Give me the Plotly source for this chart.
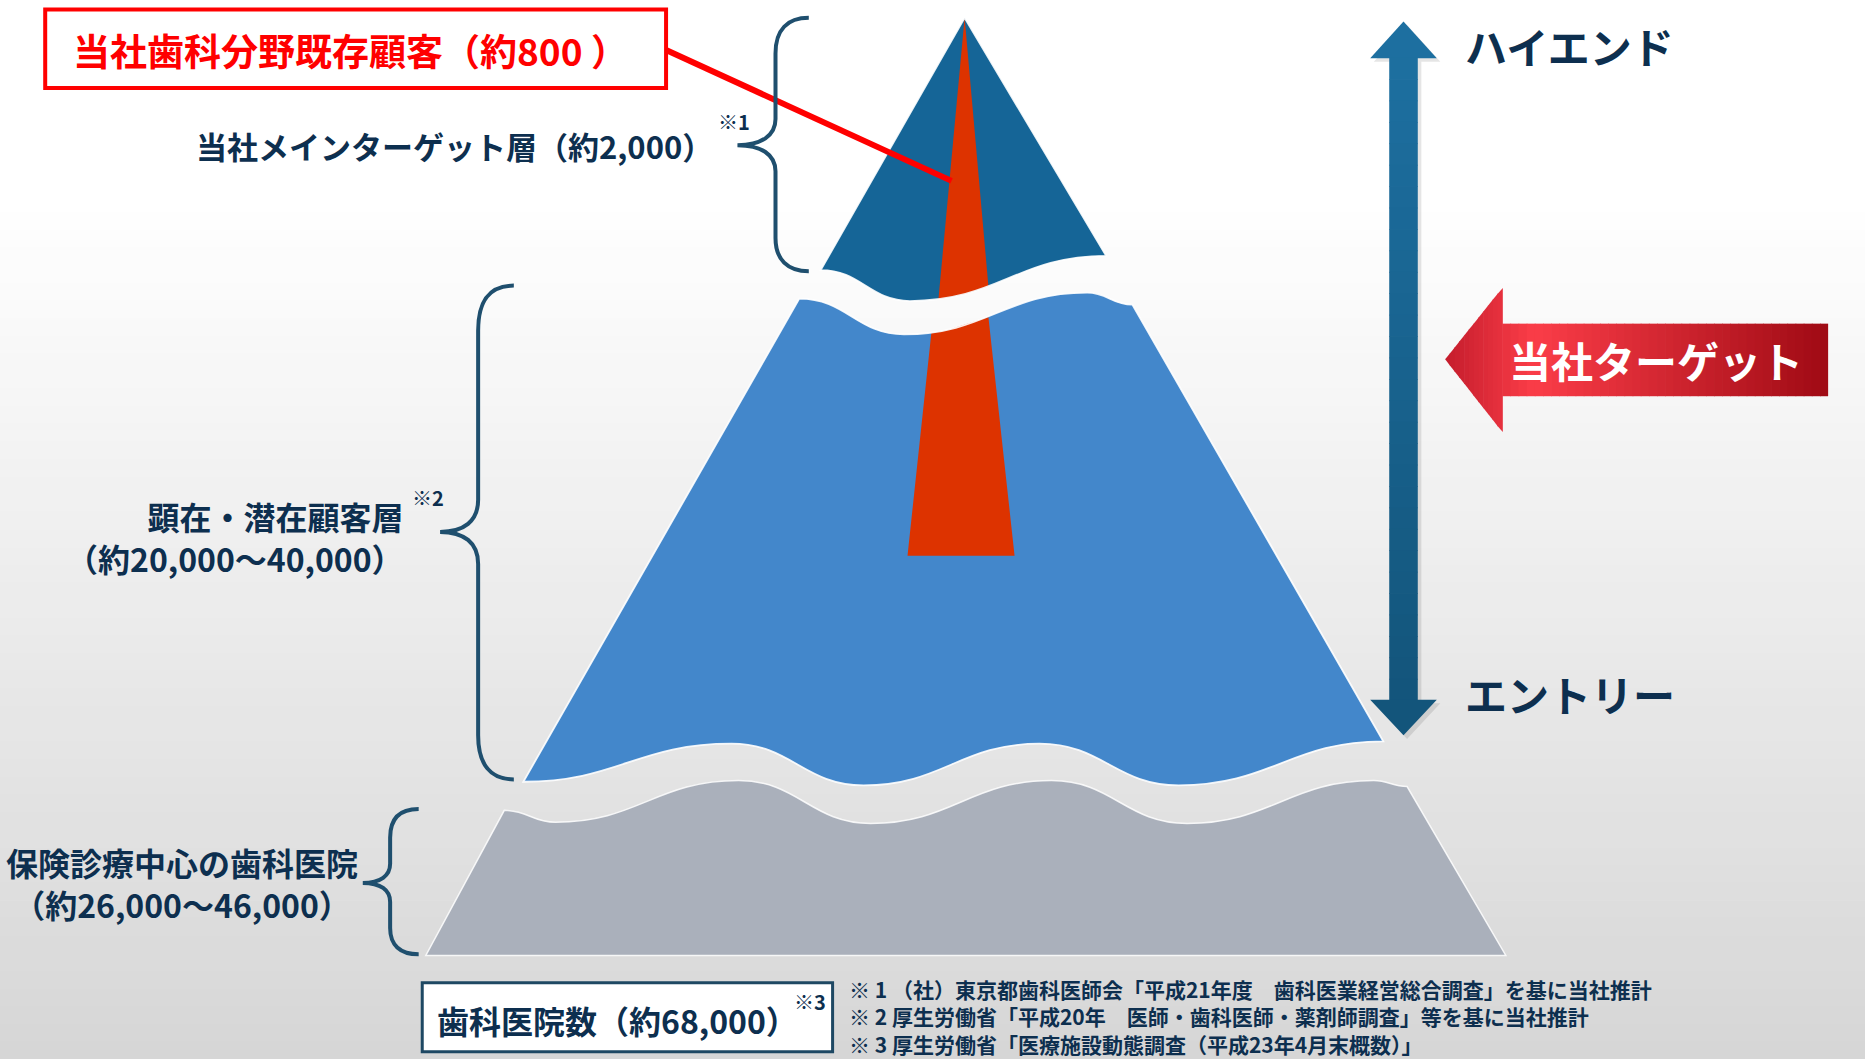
import plotly.graph_objects as go

# ---------------- content (text / values) ----------------
existing_label = "当社歯科分野既存顧客（約800 ）"
layer_titles = ["当社メインターゲット層（約2,000）", "顕在・潜在顧客層", "保険診療中心の歯科医院"]
layer_ranges = ["", "（約20,000〜40,000）", "（約26,000〜46,000）"]
note_marks = ["※1", "※2", "※3"]
total_label = "歯科医院数（約68,000）"
scale_labels = ["ハイエンド", "エントリー"]
target_label = "当社ターゲット"
footnotes = [
    "※ 1 （社）東京都歯科医師会「平成21年度　歯科医業経営総合調査」を基に当社推計",
    "※ 2 厚生労働省「平成20年　医師・歯科医師・薬剤師調査」等を基に当社推計",
    "※ 3 厚生労働省「医療施設動態調査（平成23年4月末概数）」",
]

# ---------------- style ----------------
W, H = 1865, 1059
XR, YR = 1568, 890          # drawing coordinate space
FONT = "Noto Sans CJK JP"
NAVY = "#0d2f4f"
BRACE = "#1f4f6e"
DARK_BLUE = "#156597"
MID_BLUE = "#4387cb"
GRAY = "#aab0bb"
RED_STRIPE = "#dd3300"


def hexlerp(c1, c2, t):
    a = [int(c1[i:i + 2], 16) for i in (1, 3, 5)]
    b = [int(c2[i:i + 2], 16) for i in (1, 3, 5)]
    return "#" + "".join(f"{int(round(a[k] + (b[k] - a[k]) * t)):02x}" for k in range(3))


def wave(points, start=True):
    x0, y0 = points[0]
    s = (f"M {x0},{y0}" if start else f" L {x0},{y0}")
    for (xa, ya), (xb, yb) in zip(points, points[1:]):
        d = (xb - xa) * 0.45
        s += f" C {xa + d},{ya} {xb - d},{yb} {xb},{yb}"
    return s


shapes = []

# background gradient
nb = 60
for i in range(nb):
    y0 = i * YR / nb
    y1 = (i + 1) * YR / nb + 0.6
    ym = (y0 + y1) / 2
    t = max(0.0, (ym - 170) / (YR - 170))
    shapes.append(dict(type="rect", x0=0, x1=XR, y0=y0, y1=y1,
                       fillcolor=hexlerp("#ffffff", "#d6d6d6", t), line=dict(width=0)))

# ---- gray base layer ----
gray_top = [(424, 681), (467, 691), (621, 656), (732, 692), (884, 656), (998, 692), (1155, 656), (1183, 661)]
gray_path = wave(gray_top) + " L 1266,803 L 358,803 Z"
shapes.append(dict(type="path", path=gray_path, fillcolor=GRAY,
                   line=dict(color="rgba(255,255,255,0.85)", width=1.5)))

# ---- middle blue layer ----
mid_top = [(672, 251), (760, 281), (914, 246), (952, 256)]
mid_bottom = [(1163, 623), (991, 660), (874, 625), (726, 660), (615, 625), (440, 657)]
mid_path = wave(mid_top) + " L 1163,623" + wave(mid_bottom, start=False) + " Z"
shapes.append(dict(type="path", path=mid_path, fillcolor=MID_BLUE, line=dict(width=0)))
shapes.append(dict(type="path", path="M 783,280 L 796,277.5 L 831,266.5 L 853,467 L 763,467 Z",
                   fillcolor=RED_STRIPE, line=dict(width=0)))
shapes.append(dict(type="path", path=mid_path, fillcolor="rgba(0,0,0,0)",
                   line=dict(color="rgba(255,255,255,0.9)", width=1.8)))

# ---- top dark triangle ----
top_bottom = [(930, 215), (765, 253), (690, 227)]
top_path = "M 811,15 L 930,215" + wave(top_bottom, start=False) + " Z"
shapes.append(dict(type="path", path=top_path, fillcolor=DARK_BLUE, line=dict(width=0)))
shapes.append(dict(type="path", path="M 811,15 L 831,240.5 L 811.6,247 L 789,251.5 Z",
                   fillcolor=RED_STRIPE, line=dict(width=0)))
shapes.append(dict(type="path", path=top_path, fillcolor="rgba(0,0,0,0)",
                   line=dict(color="rgba(255,255,255,0.9)", width=1.8)))

# ---- red callout box and leader line ----
shapes.append(dict(type="line", x0=560, y0=42, x1=800, y1=152, line=dict(color="#ff0000", width=6)))
shapes.append(dict(type="rect", x0=38, y0=8, x1=560, y1=74, fillcolor="white",
                   line=dict(color="#ff0000", width=4)))

# ---- braces ----
braces = [
    "M 680,15 C 662,15 652,25 652,45 L 652,100 C 652,114 640,122 620,122 "
    "C 640,122 652,130 652,144 L 652,200 C 652,218 662,228 680,228",
    "M 432,240 C 412,240 402,252 402,278 L 402,420 C 402,438 390,447 370,447 "
    "C 390,447 402,456 402,474 L 402,618 C 402,642 412,655 432,655",
    "M 352,680 C 336,680 328,688 328,704 L 328,726 C 328,736 320,742 305,742 "
    "C 320,742 328,748 328,758 L 328,780 C 328,794 336,802 352,802",
]
for b in braces:
    shapes.append(dict(type="path", path=b, line=dict(color=BRACE, width=4)))

# ---- vertical double arrow ----
ax_c, shaft_hw, head_hw = 1180, 12, 28
top_tip, top_base, bot_base, bot_tip = 18, 49, 588, 618
c_top, c_bot = "#1d6fa0", "#13557b"
shapes.append(dict(type="path",
                   path=f"M {ax_c + 3},{top_tip + 3} L {ax_c + head_hw + 3},{top_base + 3} L {ax_c + shaft_hw + 3},{top_base + 3} "
                        f"L {ax_c + shaft_hw + 3},{bot_base + 3} L {ax_c + head_hw + 3},{bot_base + 3} L {ax_c + 3},{bot_tip + 3} "
                        f"L {ax_c - head_hw + 3},{bot_base + 3} L {ax_c - shaft_hw + 3},{bot_base + 3} L {ax_c - shaft_hw + 3},{top_base + 3} "
                        f"L {ax_c - head_hw + 3},{top_base + 3} Z",
                   fillcolor="rgba(0,0,0,0.10)", line=dict(width=0)))
shapes.append(dict(type="path", path=f"M {ax_c},{top_tip} L {ax_c + head_hw},{top_base} L {ax_c - head_hw},{top_base} Z",
                   fillcolor=c_top, line=dict(width=0)))
ns = 30
for i in range(ns):
    y0 = top_base - 0.5 + i * (bot_base - top_base + 1) / ns
    y1 = top_base - 0.5 + (i + 1) * (bot_base - top_base + 1) / ns + 0.6
    shapes.append(dict(type="rect", x0=ax_c - shaft_hw, x1=ax_c + shaft_hw, y0=y0, y1=y1,
                       fillcolor=hexlerp(c_top, c_bot, (i + 0.5) / ns), line=dict(width=0)))
shapes.append(dict(type="path", path=f"M {ax_c - head_hw},{bot_base} L {ax_c + head_hw},{bot_base} L {ax_c},{bot_tip} Z",
                   fillcolor=c_bot, line=dict(width=0)))

# ---- red target arrow (horizontal gradient) ----
tip_x, tip_y, head_x, head_top, head_bot = 1215, 302, 1263, 242, 363
shaft_top, shaft_bot, right_x = 272, 333, 1537


def red_col(x):
    if x < 1290:
        return hexlerp("#c41c2c", "#fb3d48", (x - tip_x) / (1290 - tip_x))
    return hexlerp("#fb3d48", "#9f0a14", (x - 1290) / (right_x - 1290))


nh = 12
for i in range(nh):
    xa = tip_x + i * (head_x - tip_x) / nh
    xb = tip_x + (i + 1) * (head_x - tip_x) / nh + 0.5
    xb = min(xb, head_x + 0.5)
    ta = tip_y - (xa - tip_x) / (head_x - tip_x) * (tip_y - head_top)
    tb = tip_y - (min(xb, head_x) - tip_x) / (head_x - tip_x) * (tip_y - head_top)
    ba = tip_y + (xa - tip_x) / (head_x - tip_x) * (head_bot - tip_y)
    bb = tip_y + (min(xb, head_x) - tip_x) / (head_x - tip_x) * (head_bot - tip_y)
    shapes.append(dict(type="path", path=f"M {xa},{ta} L {xb},{tb} L {xb},{bb} L {xa},{ba} Z",
                       fillcolor=red_col((xa + xb) / 2), line=dict(width=0)))
nr = 40
for i in range(nr):
    xa = head_x + i * (right_x - head_x) / nr
    xb = head_x + (i + 1) * (right_x - head_x) / nr + 0.6
    xb = min(xb, right_x)
    shapes.append(dict(type="rect", x0=xa, x1=xb, y0=shaft_top, y1=shaft_bot,
                       fillcolor=red_col((xa + xb) / 2), line=dict(width=0)))

# ---- total box ----
shapes.append(dict(type="rect", x0=355, y0=826, x1=700, y1=884, fillcolor="white",
                   line=dict(color="#1e4863", width=3)))

# ---------------- annotations ----------------
ann = []


def txt(x, y, s, size, color=NAVY, xanchor="center", bold=True, align="center"):
    ann.append(dict(x=x, y=y, xref="x", yref="y", text=(f"<b>{s}</b>" if bold else s), showarrow=False,
                    xanchor=xanchor, yanchor="middle", align=align,
                    font=dict(family=FONT, size=size, color=color)))


txt(295, 42, existing_label, 37, color="#ff0000")
txt(601, 122, layer_titles[0], 31, xanchor="right")
txt(602, 102, note_marks[0], 20, xanchor="left")
txt(341, 451, layer_titles[1] + "<br>" + layer_ranges[1], 32, xanchor="right", align="right")
txt(345, 418, note_marks[1], 20, xanchor="left")
txt(153, 742, layer_titles[2] + "<br>" + layer_ranges[2], 32)
txt(519, 857, total_label, 32)
txt(666, 842, note_marks[2], 20, xanchor="left")
txt(712, 854, "<br>".join(footnotes), 21, xanchor="left", align="left")
txt(1230, 38, scale_labels[0], 42, xanchor="left")
txt(1230, 583, scale_labels[1], 42, xanchor="left")
txt(1392, 302, target_label, 42, color="white")

fig = go.Figure()
fig.add_trace(go.Scatter(x=[0, XR], y=[0, YR], mode="markers", marker=dict(opacity=0), hoverinfo="skip",
                         showlegend=False))
fig.update_layout(
    width=W, height=H, margin=dict(l=0, r=0, t=0, b=0),
    paper_bgcolor="white", plot_bgcolor="white",
    xaxis=dict(range=[0, XR], visible=False, fixedrange=True),
    yaxis=dict(range=[YR, 0], visible=False, fixedrange=True),
    shapes=shapes, annotations=ann, showlegend=False,
)
fig.write_html("out.html", config={"displayModeBar": False},
               post_script="document.body.style.margin='0';document.body.style.overflow='hidden';")
